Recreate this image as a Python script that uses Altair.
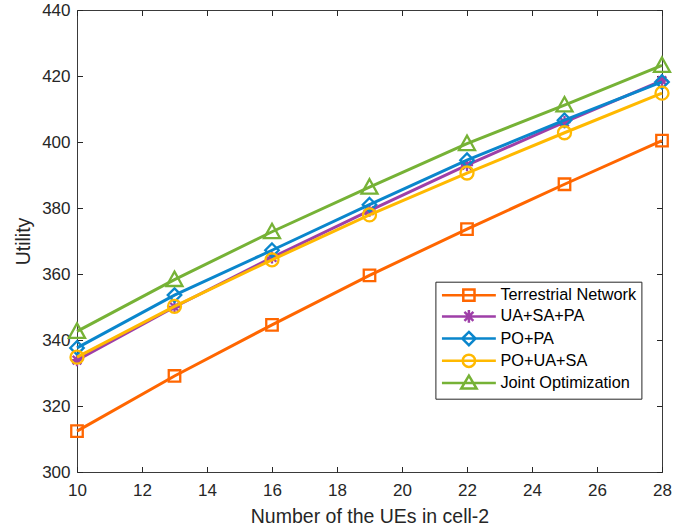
import altair as alt
import pandas as pd

# ---------------- data ----------------
x_vals = [10, 13, 16, 19, 22, 25, 28]
series_names = ["Terrestrial Network", "UA+SA+PA", "PO+PA", "PO+UA+SA", "Joint Optimization"]
terrestrial = [312.4, 329.1, 344.6, 359.6, 373.6, 387.2, 400.4]
ua_sa_pa = [333.9, 350.0, 365.0, 379.2, 393.0, 406.0, 418.6]
po_pa = [337.6, 353.6, 367.2, 381.0, 394.5, 406.6, 418.2]
po_ua_sa = [334.8, 350.2, 364.3, 377.9, 390.6, 402.8, 414.8]
joint = [342.6, 358.3, 372.8, 386.3, 399.5, 411.2, 423.2]
x_ticks = [10, 12, 14, 16, 18, 20, 22, 24, 26, 28]
y_ticks = [300, 320, 340, 360, 380, 400, 420, 440]

colors = ["#FF6600", "#9E3FA8", "#0A86CC", "#FFB900", "#76B236"]

# marker shapes (unit paths)
marker_paths = [
    "M-1,-1H1V1H-1Z",
    "M0,-1V1M-1,0H1M-0.7,-0.7L0.7,0.7M-0.7,0.7L0.7,-0.7",
    "M0,-1L1,0L0,1L-1,0Z",
    "M1,0A1,1,0,1,1,-1,0A1,1,0,1,1,1,0Z",
    "M0,-1L1,0.8L-1,0.8Z",
]
marker_sizes = [132, 150, 182, 169, 256]

# legend symbols: line segment + marker (symbol size 14px -> 7px per unit)
legend_paths = [
    "M-3.85,0H3.85M-0.8,-0.8H0.8V0.8H-0.8Z",
    "M-3.85,0H3.85M0,-0.9V0.9M-0.64,-0.64L0.64,0.64M-0.64,0.64L0.64,-0.64",
    "M-3.85,0H3.85M0,-0.95L0.95,0L0,0.95L-0.95,0Z",
    "M-3.85,0H3.85M0.88,0A0.88,0.88,0,1,1,-0.88,0A0.88,0.88,0,1,1,0.88,0Z",
    "M-3.85,0H3.85M0,-1.05L1.1,0.8L-1.1,0.8Z",
]

rows = []
for name, vals in zip(series_names, [terrestrial, ua_sa_pa, po_pa, po_ua_sa, joint]):
    for xv, yv in zip(x_vals, vals):
        rows.append({"x": xv, "value": yv, "series": name})
df = pd.DataFrame(rows)

# ---------------- layout ----------------
W, H = 585, 462
FONT = "Liberation Sans"
AX = "#262626"

xs = alt.Scale(domain=[10, 28], nice=False, zero=False)
ys = alt.Scale(domain=[300, 440], nice=False, zero=False)

main_x = alt.Axis(values=x_ticks, ticks=False, tickSize=0, domain=False, grid=False,
                  labelFlush=False,
                  labelFont=FONT, labelFontSize=17, labelColor=AX, labelPadding=10,
                  title="Number of the UEs in cell-2", titleFont=FONT, titleFontSize=19.5,
                  titleFontWeight="normal", titleColor=AX, titleBaseline="alphabetic",
                  titleY=50.5, titleX=W / 2)
main_y = alt.Axis(values=y_ticks, ticks=False, tickSize=0, domain=False, grid=False,
                  labelFlush=False,
                  labelFont=FONT, labelFontSize=17, labelColor=AX, labelPadding=7,
                  title="Utility", titleFont=FONT, titleFontSize=19.5,
                  titleFontWeight="normal", titleColor=AX, titleBaseline="alphabetic",
                  titleAngle=270, titleX=-48, titleY=H / 2)

tick_common = dict(labels=False, domain=False, grid=False, ticks=True, tickSize=5.5,
                   tickColor=AX, tickWidth=1, title=None)
x_in_bottom = alt.Axis(orient="top", offset=-H, values=x_ticks, **tick_common)
x_in_top = alt.Axis(orient="bottom", offset=-H, values=x_ticks, **tick_common)
y_in_left = alt.Axis(orient="right", offset=-W, values=y_ticks, **tick_common)
y_in_right = alt.Axis(orient="left", offset=-W, values=y_ticks, **tick_common)

axis_pairs = [(main_x, main_y), (x_in_bottom, y_in_left), (x_in_top, y_in_right)]

layers = []
k = 0
for i, name in enumerate(series_names):
    base = alt.Chart(df).transform_filter(alt.datum.series == name)
    for kind in ("line", "point"):
        if k < len(axis_pairs):
            ax_x, ax_y = axis_pairs[k]
        else:
            ax_x, ax_y = None, None
        enc = dict(
            x=alt.X("x:Q", scale=xs, axis=ax_x),
            y=alt.Y("value:Q", scale=ys, axis=ax_y),
        )
        if kind == "line":
            m = base.mark_line(color=colors[i], strokeWidth=3, clip=False).encode(**enc)
        else:
            m = base.mark_point(shape=marker_paths[i], size=marker_sizes[i], color=colors[i],
                                filled=False, strokeWidth=2.3, opacity=1, clip=False).encode(**enc)
        layers.append(m)
        k += 1

leg = alt.Legend(orient="none", legendX=358.4, legendY=271.7, title=None,
                 symbolSize=196, symbolStrokeWidth=2.5, symbolOpacity=1, symbolOffset=20,
                 labelFont=FONT, labelFontSize=16.3, labelColor="#000000", labelOffset=23,
                 padding=5, rowPadding=-1.8, strokeColor=AX, fillColor="white")

legend_layer = alt.Chart(df).mark_point(filled=False, opacity=0, strokeWidth=2.5, clip=False).encode(
    x=alt.X("x:Q", scale=xs, axis=None),
    y=alt.Y("value:Q", scale=ys, axis=None),
    color=alt.Color("series:N", scale=alt.Scale(domain=series_names, range=colors), legend=leg),
    shape=alt.Shape("series:N", scale=alt.Scale(domain=series_names, range=legend_paths), legend=leg),
)
layers.append(legend_layer)

chart = alt.layer(*layers).resolve_axis(x="independent", y="independent").properties(
    width=W, height=H,
    autosize=alt.AutoSizeParams(type="none"),
    padding={"left": 77, "top": 10, "right": 699 - 77 - W, "bottom": 532 - 10 - H},
    background="white",
).configure_view(stroke="#3a3a3a", strokeWidth=1)

chart.save("out.html", embed_options={"renderer": "svg", "actions": False})
